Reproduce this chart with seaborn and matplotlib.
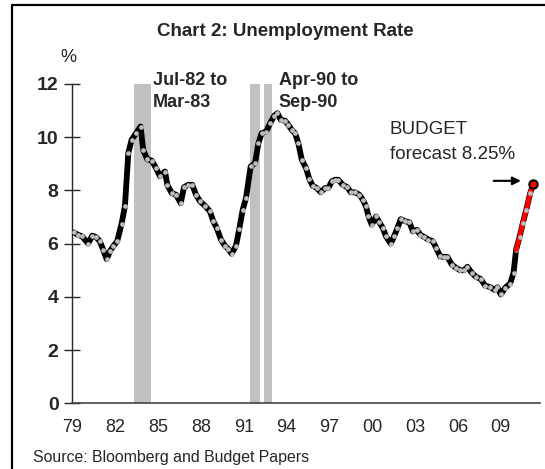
"""Chart 2: Unemployment Rate, with recession shading and budget forecast."""

import matplotlib
matplotlib.use("Agg")
import matplotlib.pyplot as plt
from matplotlib.lines import Line2D
import pandas as pd
import seaborn as sns

years = [
    1979.10, 1979.40, 1979.68, 1980.10, 1980.38, 1980.64, 1980.92, 1981.15, 1981.39, 1981.62,
    1981.85, 1982.13, 1982.44, 1982.67, 1982.91, 1983.14, 1983.45, 1983.77, 1983.96, 1984.24,
    1984.55, 1984.85, 1985.13, 1985.48, 1985.64, 1985.95, 1986.25, 1986.58, 1986.81, 1987.11,
    1987.39, 1987.65, 1987.93, 1988.28, 1988.63, 1988.86, 1989.10, 1989.40, 1989.68, 1989.91,
    1990.15, 1990.45, 1990.68, 1990.92, 1991.15, 1991.48, 1991.78, 1992.02, 1992.25, 1992.56,
    1992.84, 1993.12, 1993.35, 1993.59, 1993.89, 1994.12, 1994.36, 1994.59, 1994.82, 1995.06,
    1995.36, 1995.59, 1995.83, 1996.11, 1996.39, 1996.69, 1996.92, 1997.16, 1997.39, 1997.62,
    1997.93, 1998.25, 1998.49, 1998.79, 1999.09, 1999.33, 1999.56, 1999.72, 1999.96, 2000.26,
    2000.49, 2000.73, 2000.96, 2001.29, 2001.52, 2001.76, 2001.99, 2002.30, 2002.60, 2002.84,
    2003.12, 2003.35, 2003.63, 2003.93, 2004.24, 2004.47, 2004.75, 2005.03, 2005.26, 2005.57,
    2005.87, 2006.15, 2006.43, 2006.66, 2006.97, 2007.27, 2007.60, 2007.90, 2008.25, 2008.60,
    2008.76, 2009.00, 2009.30, 2009.65, 2009.89, 2010.07, 2010.31, 2010.54, 2010.78, 2011.06,
    2011.27,
]
rate = [
    6.42, 6.33, 6.27, 6.00, 6.30, 6.25, 6.09, 5.77, 5.42, 5.71,
    5.90, 6.09, 6.75, 7.40, 9.40, 9.90, 10.15, 10.40, 9.50, 9.17,
    9.12, 8.84, 8.53, 8.71, 8.21, 7.90, 7.84, 7.52, 8.12, 8.21,
    8.21, 7.84, 7.59, 7.42, 7.21, 6.84, 6.59, 6.15, 5.92, 5.80,
    5.62, 5.92, 6.55, 7.27, 7.71, 8.90, 9.02, 9.77, 10.15, 10.21,
    10.52, 10.80, 10.90, 10.65, 10.62, 10.46, 10.27, 10.15, 9.77, 9.15,
    8.84, 8.42, 8.17, 8.09, 7.93, 8.09, 8.09, 8.34, 8.40, 8.40,
    8.21, 8.12, 7.93, 7.93, 7.84, 7.65, 7.40, 7.05, 6.71, 7.02,
    6.80, 6.59, 6.27, 6.00, 6.27, 6.59, 6.92, 6.84, 6.80, 6.46,
    6.52, 6.34, 6.25, 6.15, 6.09, 5.84, 5.52, 5.50, 5.50, 5.21,
    5.09, 5.00, 5.00, 5.13, 4.90, 4.75, 4.67, 4.42, 4.37, 4.25,
    4.36, 4.09, 4.34, 4.50, 4.90, 5.77, 6.25, 6.77, 7.27, 7.90,
    8.25,
]
# forecast section drawn in red (index range into the series)
fc_start, fc_end = 115, 120

recessions = [(1983.31, 1984.48), (1991.43, 1992.13), (1992.41, 1992.95)]
rec_labels = [("Jul-82 to\nMar-83", 1984.64), ("Apr-90 to\nSep-90", 1993.46)]
yticks = [0, 2, 4, 6, 8, 10, 12]
xtick_years = [1979, 1982, 1985, 1988, 1991, 1994, 1997, 2000, 2003, 2006, 2009]
xtick_labels = ["79", "82", "85", "88", "91", "94", "97", "00", "03", "06", "09"]

df = pd.DataFrame({"year": years, "rate": rate})

sns.set_style("ticks")
plt.rcParams["font.family"] = ["Liberation Sans", "DejaVu Sans"]

fig = plt.figure(figsize=(5.45, 4.69), dpi=100)
ax = fig.add_axes([0.133, 0.140, 0.858, 0.681])

for a, b in recessions:
    ax.axvspan(a, b, color="#c0c0c0", lw=0, zorder=0)

sns.lineplot(data=df, x="year", y="rate", ax=ax, color="black", lw=4.2,
             marker="o", markersize=3.4, markerfacecolor="#bdbdbd",
             markeredgewidth=0, zorder=3)
fc = df.iloc[fc_start:fc_end + 1]
ax.plot(fc["year"], fc["rate"], color="#ff0000", lw=3.4, zorder=4)
ax.plot(fc["year"].iloc[1:], fc["rate"].iloc[1:], "o", color="#bdbdbd",
        ms=3.4, mew=0, zorder=5)
ax.plot(years[-1], rate[-1], "o", color="#ff0000", mec="black", mew=1.5,
        ms=6, zorder=6)

ax.set_xlim(1979, 2011.75)
ax.set_ylim(0, 12)
ax.set_yticks(yticks)
ax.set_yticklabels([str(v) for v in yticks], fontsize=14, fontweight="bold")
ax.set_xticks(xtick_years)
ax.set_xticklabels(xtick_labels, fontsize=13)
ax.tick_params(axis="y", direction="inout", length=12, width=1, pad=4)
ax.tick_params(axis="x", length=0, pad=11)
ax.set_xlabel("")
ax.set_ylabel("")
sns.despine(ax=ax)
ax.spines["left"].set_linewidth(1)
ax.spines["bottom"].set_linewidth(1.2)
ax.spines["bottom"].set_color("#444444")

for txt, x0 in rec_labels:
    ax.text(x0, 12.45, txt, fontsize=13, fontweight="bold", va="top",
            ha="left", linespacing=1.35, clip_on=False)

ax.text(2001.23, 10.62, "BUDGET\nforecast 8.25%", fontsize=13.5, va="top",
        ha="left", linespacing=1.65)
ax.annotate("", xy=(2010.6, 8.36), xytext=(2008.3, 8.36),
            arrowprops=dict(arrowstyle="-|>", color="black", lw=1.5,
                            mutation_scale=12))

fig.text(0.523, 1 - 32 / 469, "Chart 2: Unemployment Rate", fontsize=13.5,
         fontweight="bold", ha="center", va="center")
fig.text(68 / 545, 1 - 57 / 469, "%", fontsize=13, ha="center", va="center",
         color="#222222")
fig.text(33 / 545, 1 - 457 / 469, "Source: Bloomberg and Budget Papers",
         fontsize=11.4, ha="left", va="center")

# frame lines on the left and top of the figure
fig.add_artist(Line2D([12 / 545, 12 / 545], [0, 1 - 5 / 469], color="black",
                      lw=1.6, transform=fig.transFigure))
fig.add_artist(Line2D([12 / 545, 1], [1 - 5 / 469, 1 - 5 / 469], color="black",
                      lw=1.6, transform=fig.transFigure))

fig.savefig("out.png", dpi=100)
